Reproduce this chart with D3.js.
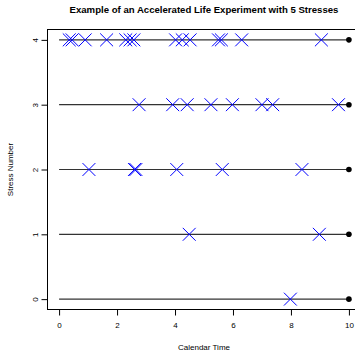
<!DOCTYPE html>
<html>
<head>
<meta charset="utf-8">
<script src="https://cdn.jsdelivr.net/npm/d3@7"></script>
<style>
  body { margin: 0; background: #fff; }
  text { font-family: "Liberation Sans", Arial, sans-serif; fill: #000; }
</style>
</head>
<body>
<div id="chart"></div>
<script>
// stress levels and the failure times seen on each one
const stresses = [0, 1, 2, 3, 4];
const times0 = [7.98];
const times1 = [4.49, 8.98];
const times2 = [1.03, 2.6, 2.65, 4.06, 5.63, 8.38];
const times3 = [2.76, 3.92, 4.42, 5.24, 5.98, 7.0, 7.37, 9.64];
const times4 = [0.35, 0.45, 0.9, 1.64, 2.3, 2.45, 2.58, 4.02, 4.25, 4.52, 5.5, 5.6, 6.3, 9.05];
const failures = [times0, times1, times2, times3, times4];
const endTime = 10; // censoring time, black dot
const xTicks = [0, 2, 4, 6, 8, 10];
const yTicks = [0, 1, 2, 3, 4];

const width = 355, height = 351;
const margin = {top: 29.5, left: 47.5, bottom: 41.5};

const svg = d3.select("#chart").append("svg")
  .attr("width", width)
  .attr("height", height);

// R style 4% padding on both ends
let x = d3.scaleLinear()
  .domain([-0.4, 10.4])
  .range([margin.left, 360.5]);

let y = d3.scaleLinear()
  .domain([-0.16, 4.16])
  .range([height - margin.bottom, margin.top]);

svg.append("text")
  .attr("x", 204)
  .attr("y", 13)
  .attr("text-anchor", "middle")
  .attr("font-size", "9.6px")
  .attr("font-weight", "bold")
  .text("Example of an Accelerated Life Experiment with 5 Stresses");

// one line per stress, from 0 to the end time
svg.append("g").selectAll("line")
  .data(stresses)
  .join("line")
  .attr("x1", x(0))
  .attr("x2", x(endTime))
  .attr("y1", d => y(d))
  .attr("y2", d => y(d))
  .attr("stroke", "#333")
  .attr("stroke-width", 1.2);

// failures as blue crosses
let pts = [];
failures.forEach((arr, i) => arr.forEach(t => pts.push({s: stresses[i], t: t})));
let cross = d3.symbol().type(d3.symbolX).size(110);
svg.append("g").selectAll("path")
  .data(pts)
  .join("path")
  .attr("transform", d => "translate(" + x(d.t) + "," + y(d.s) + ")")
  .attr("d", cross)
  .attr("fill", "none")
  .attr("stroke", "#0000ff")
  .attr("stroke-width", 1);

svg.append("g").selectAll("circle")
  .data(stresses)
  .join("circle")
  .attr("cx", x(endTime))
  .attr("cy", d => y(d))
  .attr("r", 2.8)
  .attr("fill", "#000");

// box
svg.append("rect")
  .attr("x", margin.left)
  .attr("y", margin.top)
  .attr("width", 360.5 - margin.left)
  .attr("height", height - margin.bottom - margin.top)
  .attr("fill", "none")
  .attr("stroke", "#000")
  .attr("stroke-width", 1);

let xAxis = d3.axisBottom(x)
  .tickValues(xTicks)
  .tickSize(6)
  .tickPadding(7)
  .tickFormat(d3.format("d"));

let gx = svg.append("g")
  .attr("transform", "translate(0," + (height - margin.bottom) + ")")
  .call(xAxis);
gx.select(".domain").remove();
gx.selectAll("text").attr("font-size", "8px").attr("font-family", null);

let yAxis = d3.axisLeft(y)
  .tickValues(yTicks)
  .tickSize(6)
  .tickFormat(d3.format("d"));

let gy = svg.append("g")
  .attr("transform", "translate(" + margin.left + ",0)")
  .call(yAxis);
gy.select(".domain").remove();
gy.selectAll("text")
  .attr("font-size", "8px")
  .attr("font-family", null)
  .attr("x", null)
  .attr("dy", null)
  .attr("text-anchor", "middle")
  .attr("transform", "translate(-13,0) rotate(-90)")
  .attr("y", 3);

svg.append("text")
  .attr("x", 204)
  .attr("y", 349.5)
  .attr("text-anchor", "middle")
  .attr("font-size", "8px")
  .text("Calendar Time");

svg.append("text")
  .attr("transform", "translate(13," + y(2) + ") rotate(-90)")
  .attr("text-anchor", "middle")
  .attr("font-size", "8px")
  .text("Stress Number");
</script>
</body>
</html>
